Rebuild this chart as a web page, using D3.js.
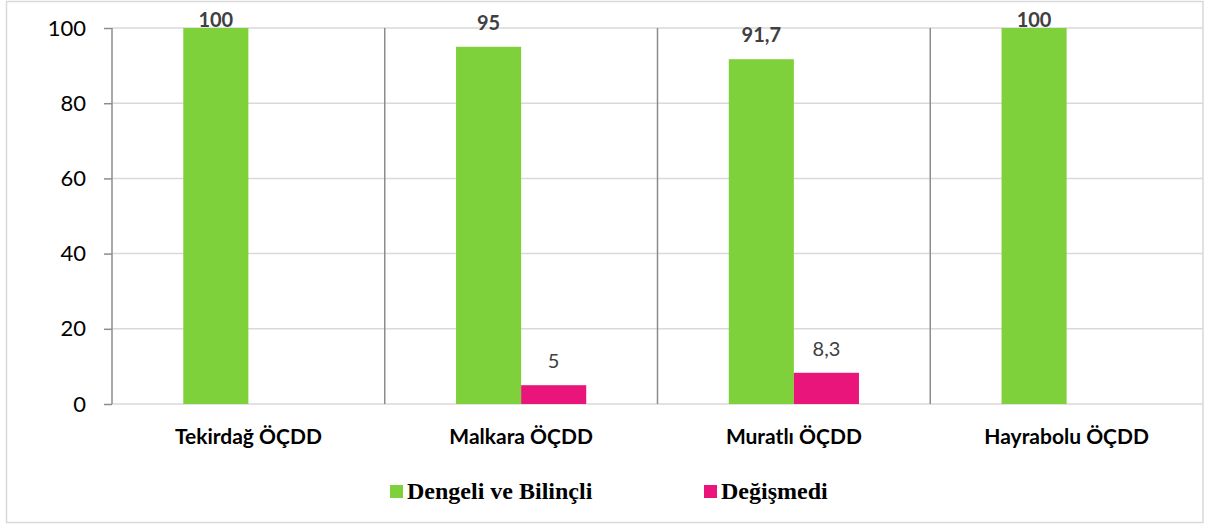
<!DOCTYPE html>
<html>
<head>
<meta charset="utf-8">
<script src="https://cdn.jsdelivr.net/npm/d3@7"></script>
<style>
  body { margin: 0; background: #fff; }
</style>
</head>
<body>
<div id="chart"></div>
<script>
const categories = ["Tekirdağ ÖÇDD", "Malkara ÖÇDD", "Muratlı ÖÇDD", "Hayrabolu ÖÇDD"];
const seriesNames = ["Dengeli ve Bilinçli", "Değişmedi"];
const dengeli = [100, 95, 91.7, 100];
const degismedi = [0, 5, 8.3, 0];
const yTicks = [0, 20, 40, 60, 80, 100];
const colors = ["#7fd13b", "#ea157a"];

const W = 1211, H = 526;
const margin = { top: 28, right: 8, bottom: 122, left: 112 };
const width = 1203 - margin.left;
const height = 404 - margin.top;

const svg = d3.select('#chart')
  .append('svg')
  .attr('width', W)
  .attr('height', H);

// chart border
svg.append('rect')
  .attr('x', 6.5).attr('y', 1.5)
  .attr('width', 1203 - 6.5).attr('height', 522.5 - 1.5)
  .attr('fill', 'none')
  .attr('stroke', '#d9d9d9')
  .attr('stroke-width', 1.5);

const g = svg.append('g')
  .attr('transform', `translate(${margin.left},${margin.top})`);

const x0 = d3.scaleBand().domain(categories).range([0, width]).padding(0);
const x1 = d3.scaleBand().domain(seriesNames).range([0, x0.bandwidth()])
  .paddingInner(0).paddingOuter(1.095);
const y = d3.scaleLinear().domain([0, 100]).range([height, 0]);

// gridlines
g.selectAll('.grid')
  .data(yTicks)
  .enter().append('line')
  .attr('x1', 0).attr('x2', width)
  .attr('y1', d => y(d)).attr('y2', d => y(d))
  .attr('stroke', '#d9d9d9').attr('stroke-width', 1.5);

// category separators
g.selectAll('.sep')
  .data(categories.slice(1))
  .enter().append('line')
  .attr('x1', d => x0(d)).attr('x2', d => x0(d))
  .attr('y1', 0).attr('y2', height)
  .attr('stroke', '#8c8c8c').attr('stroke-width', 1.5);

// y axis
const yAxis = g.append('g')
  .call(d3.axisLeft(y).tickValues(yTicks).tickSize(8).tickPadding(18));
yAxis.select('.domain').attr('stroke', '#8c8c8c').attr('stroke-width', 1.5)
  .attr('d', `M0,0V${height}`);
yAxis.selectAll('.tick line').attr('stroke', '#8c8c8c').attr('stroke-width', 1.5);
yAxis.selectAll('.tick text')
  .attr('font-family', 'Lato, sans-serif')
  .attr('font-size', 22)
  .attr('fill', '#000');

// x labels
g.selectAll('.xlabel')
  .data(categories)
  .enter().append('text')
  .attr('x', d => x0(d) + x0.bandwidth() / 2)
  .attr('y', height + 40)
  .attr('text-anchor', 'middle')
  .attr('font-family', 'Lato, sans-serif')
  .attr('font-weight', 'bold')
  .attr('font-size', 21)
  .attr('fill', '#000')
  .text(d => d);

const series = [dengeli, degismedi];
const fmt = v => String(v).replace('.', ',');

series.forEach((vals, si) => {
  const data = categories.map((c, i) => ({ c, v: vals[i] }));
  g.selectAll('.bar' + si)
    .data(data)
    .enter().append('rect')
    .attr('x', d => x0(d.c) + x1(seriesNames[si]))
    .attr('width', x1.bandwidth())
    .attr('y', d => y(d.v))
    .attr('height', d => height - y(d.v))
    .attr('fill', colors[si]);

  g.selectAll('.lab' + si)
    .data(data.filter(d => d.v > 0))
    .enter().append('text')
    .attr('x', d => x0(d.c) + x1(seriesNames[si]) + x1.bandwidth() / 2)
    .attr('y', d => Math.max(y(d.v) - 17, -1))
    .attr('text-anchor', 'middle')
    .attr('font-family', 'Lato, sans-serif')
    .attr('font-weight', si === 0 ? 'bold' : 'normal')
    .attr('font-size', 20)
    .attr('fill', '#404040')
    .text(d => fmt(d.v));
});

// legend
const legendX = [390, 704];
const legend = svg.selectAll('.legend')
  .data(seriesNames)
  .enter().append('g')
  .attr('transform', (d, i) => `translate(${legendX[i]},485)`);
legend.append('rect')
  .attr('width', 13).attr('height', 13)
  .attr('fill', (d, i) => colors[i]);
legend.append('text')
  .attr('x', 17).attr('y', 14)
  .attr('font-family', '"Liberation Serif", serif')
  .attr('font-weight', 'bold')
  .attr('font-size', 24)
  .attr('fill', '#000')
  .text(d => d);
</script>
</body>
</html>
